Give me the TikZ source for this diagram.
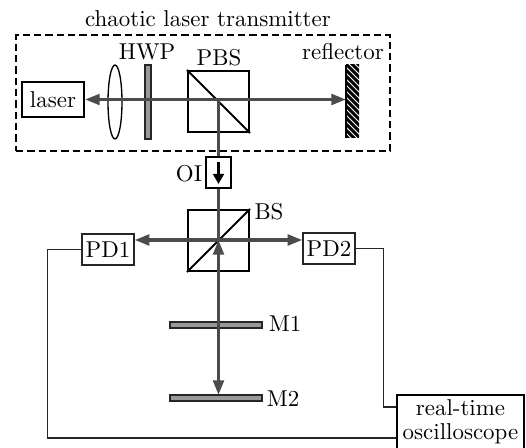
\documentclass[tikz,border=0pt]{standalone}
\usepackage{fontspec}
\setmainfont{lmroman10-regular.otf}
\usetikzlibrary{arrows.meta,shapes.geometric}
\begin{document}
\begin{tikzpicture}[x=0.75pt,y=-0.75pt,
  txt/.style={font=\fontsize{17.2}{18}\selectfont,inner sep=0pt},
  box/.style={draw=black,line width=1.6pt,minimum width=#1*0.75pt,inner sep=0pt,font=\fontsize{17.2}{18}\selectfont},
  cube/.style={draw=black,line width=1.6pt,minimum size=45.75pt,inner sep=0pt},
  plate/.style={draw=black!85,fill=black!40,line width=1.5pt,inner sep=0pt},
  beam/.style={draw=black!70,line width=2.4pt},
  head/.style={-{Triangle[length=11pt,width=8pt,fill=black!70]}},
  wire/.style={draw=black!85,line width=1pt}]
\useasboundingbox (0,0) rectangle (526,448);
\node[txt] (title) at (208,19) {chaotic laser transmitter};
\node[draw=black,dash pattern=on 5.5pt off 3pt,line width=1.5pt,minimum width=280.5pt,minimum height=87pt,inner sep=0pt] (tx) at (203,93) {};
\node[box=62,minimum height=26.25pt] (laser) at (53,99.5) {laser};
\node[draw=black,line width=1pt,ellipse,minimum width=10.5pt,minimum height=55.5pt,inner sep=0pt] (lens) at (115,102) {};
\node[plate,minimum width=4.5pt,minimum height=55.5pt] (hwp) at (148,102) {};
\node[txt] (hwpl) at (147,52) {HWP};
\node[cube] (pbs) at (218.5,101.5) {};
\node[txt] (pbsl) at (219,58) {PBS};
\node[txt] (refl) at (343,52) {reflector};
\node[inner sep=0pt,minimum width=9.75pt,minimum height=55pt] (mirror) at (352.5,102) {};
\coordinate (rb) at (346,99.5);
\coordinate (pc) at (218.5,99.5);
% OI
\node[box=25,minimum height=23.25pt,line width=1.4pt] (oi) at (218.5,172.5) {};
\node[txt] (oil) at (189,174) {OI};
% BS
\node[cube] (bs) at (218.5,240.5) {};
\node[txt] (bsl) at (269,212) {BS};
\coordinate (bc) at (218.5,240);
\node[box=52,minimum height=23.25pt,line width=1pt,draw=black!85] (pd1) at (108,249.5) {PD1};
\node[box=52,minimum height=23.25pt,line width=1pt,draw=black!85] (pd2) at (329,248.5) {PD2};
\node[plate,minimum width=69pt,minimum height=4pt] (m1) at (216,325) {};
\node[txt] (m1l) at (285,324) {M1};
\node[plate,minimum width=69pt,minimum height=4pt] (m2) at (216,398) {};
\node[txt] (m2l) at (283,399) {M2};
\node[draw=black,line width=1.5pt,minimum width=95pt,minimum height=45pt,inner sep=0pt] (osc) at (460.5,425) {};
\node[txt,align=center,font=\fontsize{17.2}{18}\selectfont] (osct) at (460.5,422) {real-time\\oscilloscope};
% mirror hatch
\begin{scope}
\clip (346,65) rectangle (359,138);
\foreach \k in {0,6,...,96}{\draw[black,line width=2.2pt] (344,50+\k) -- (361,67+\k);}
\end{scope}
\draw[black,line width=1pt] (346,65) -- (346,138);
% diagonals
\draw[black,line width=1.4pt] (pbs.north west) -- (pbs.south east);
\draw[black,line width=1.4pt] (bs.south west) -- (bs.north east);
% beams
\coordinate (m1c) at (218.5,325);
\coordinate (m2c) at (218.5,395);
\draw[beam] (pc) -- (oi.north);
\draw[beam] (oi.south) -- (bs.center);
\draw[beam,head] (pc) -- (laser.east);
\draw[beam,head] (pc) -- (rb);
\draw[beam,head] (bc) -- (pd1.east |- bc);
\draw[beam,head] (bc) -- (pd2.west |- bc);
\draw[beam,head] (m1c) -- (bc);
\draw[beam,head] (m1c) -- (m2c);
% OI arrow
\coordinate (oit) at (218.5,162);
\coordinate (oib) at (218.5,184);
\draw[black,line width=2pt,-{Triangle[length=7.5pt,width=8pt]}] (oit) -- (oib);
% wires
\draw[wire] (pd1.west) -- ++(-34,0) |- (osc.west |- 0,438);
\draw[wire] (pd2.east) -- ++(28,0) |- (osc.west |- 0,407);
\end{tikzpicture}
\end{document}
